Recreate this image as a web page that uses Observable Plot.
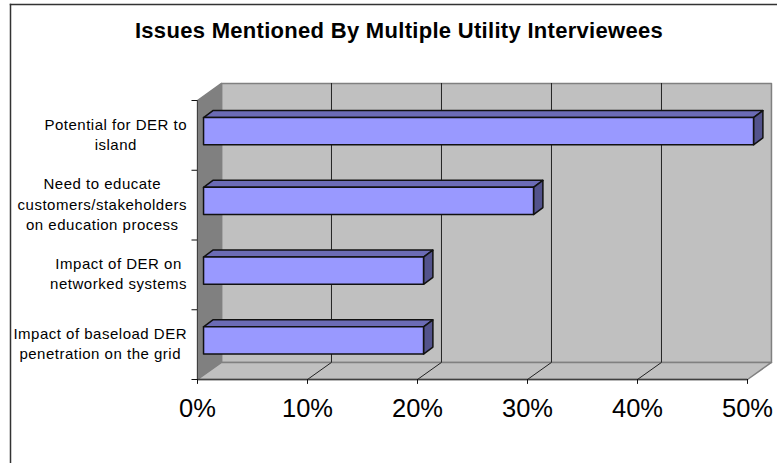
<!DOCTYPE html>
<html>
<head>
<meta charset="utf-8">
<script src="https://cdn.jsdelivr.net/npm/d3@7"></script>
<script src="https://cdn.jsdelivr.net/npm/@observablehq/plot@0.6"></script>
<style>
  html, body { margin: 0; padding: 0; background: #fff; }
  svg { display: block; }
  .issue-label { letter-spacing: 0.5px; }
  .chart-title { letter-spacing: 0.3px; }
</style>
</head>
<body>
<div id="chart"></div>
<script>
// Share of interviewees raising each issue, listed from the bottom row up.
const issues = [
  "Impact of baseload DER\npenetration on the grid",
  "Impact of DER on\nnetworked systems",
  "Need to educate\ncustomers/stakeholders\non education process",
  "Potential for DER to\nisland"
];
const shares = [20, 20, 30, 50];
const percentTicks = [0, 10, 20, 30, 40, 50];
const rowTicks = [0, 1, 2, 3, 4];
const title = "Issues Mentioned By Multiple Utility Interviewees";

// Oblique projection: how far the back wall and the bar depth shift, in axis units.
const wallShift = {x: 2.18, y: 0.245};
const barShift = {x: 0.85, y: 0.1};
const barInset = {x: 0.55, y: 0.06};
const barHalf = 0.195;

const poly = (id, pts) => pts.map(([x, y]) => ({id, x, y}));
const face = (id, fill, pts, stroke, strokeWidth = 1.5) =>
  Plot.line(poly(id, pts), {x: "x", y: "y", fill, stroke, strokeWidth, curve: "linear-closed"});

const maxX = percentTicks[percentTicks.length - 1];
const maxY = rowTicks[rowTicks.length - 1];
const sx = wallShift.x, sy = wallShift.y;

const bars = shares.flatMap((v, i) => {
  const x0 = barInset.x, x1 = barInset.x + v;
  const lo = i + 0.5 + barInset.y - barHalf, hi = i + 0.5 + barInset.y + barHalf;
  const bx = barShift.x, by = barShift.y;
  return [
    face(`top${i}`, "#6b6bb5", [[x0, hi], [x1, hi], [x1 + bx, hi + by], [x0 + bx, hi + by]], "#111"),
    face(`side${i}`, "#53538c", [[x1, lo], [x1, hi], [x1 + bx, hi + by], [x1 + bx, lo + by]], "#111"),
    face(`front${i}`, "#9999ff", [[x0, lo], [x1, lo], [x1, hi], [x0, hi]], "#111")
  ];
});

// Category labels: lines are centred on each other and the block sits right-aligned to the axis.
const labelSize = 15;
const labelSpacing = 0.5;
const measure = document.createElement("canvas").getContext("2d");
measure.font = `${labelSize}px 'Liberation Sans'`;
const blockWidth = (s) =>
  d3.max(s.split("\n"), (l) => measure.measureText(l).width + labelSpacing * l.length);
const labelMarks = issues.map((s, i) =>
  Plot.text([s], {
    x: () => 0,
    y: () => i + 0.5,
    text: (d) => d,
    dx: -10.5 - blockWidth(s) / 2,
    dy: -2,
    textAnchor: "middle",
    lineAnchor: "middle",
    lineHeight: 1.35,
    fontSize: labelSize,
    fill: "#000",
    className: "issue-label"
  })
);

const chart = Plot.plot({
  width: 777,
  height: 463,
  margin: 0,
  style: {fontFamily: "'Liberation Sans', Arial, sans-serif", background: "#fff"},
  x: {type: "linear", domain: [0, maxX], range: [197, 747], axis: null},
  y: {type: "linear", domain: [0, maxY], range: [379, 100], axis: null},
  marks: [
    // Chart area edges along the top and left only
    Plot.frame({anchor: "top", dy: 4, insetLeft: 10, stroke: "#333", strokeWidth: 1.5}),
    Plot.frame({anchor: "left", dx: 10, insetTop: 4, stroke: "#333", strokeWidth: 1.5}),
    // Back wall, side wall and floor
    face("back", "#c0c0c0", [[sx, sy], [maxX + sx, sy], [maxX + sx, maxY + sy], [sx, maxY + sy]], "#808080"),
    face("left", "#808080", [[0, 0], [sx, sy], [sx, maxY + sy], [0, maxY]], "#808080"),
    face("floor", "#c0c0c0", [[0, 0], [maxX, 0], [maxX + sx, sy], [sx, sy]], "#808080"),
    // Gridlines run up the back wall and forward across the floor
    ...percentTicks.slice(1, -1).map((t) =>
      Plot.line([[t, 0], [t + sx, sy], [t + sx, maxY + sy]], {x: "0", y: "1", stroke: "#222", strokeWidth: 1})
    ),
    Plot.ruleY([0], {x1: 0, x2: maxX, stroke: "#404040", strokeWidth: 1.5}),
    Plot.ruleX([0], {y1: 0, y2: maxY, stroke: "#404040", strokeWidth: 1}),
    // Tick marks on both axes
    Plot.ruleX(percentTicks, {x: (d) => d, y1: 0, y2: -0.07, stroke: "#111", strokeWidth: 1}),
    Plot.ruleY(rowTicks, {y: (d) => d, x1: -0.5, x2: 0, stroke: "#111", strokeWidth: 1}),
    ...bars,
    ...labelMarks,
    Plot.text(percentTicks, {
      x: (d) => d,
      y: () => 0,
      text: (d) => `${d}%`,
      dy: 29,
      fontSize: 25.5,
      fill: "#000"
    }),
    Plot.text([title], {
      text: (d) => d,
      frameAnchor: "top",
      dx: 10,
      dy: 30,
      lineAnchor: "middle",
      fontSize: 22,
      fontWeight: "bold",
      fill: "#000",
      className: "chart-title"
    })
  ]
});
document.getElementById("chart").appendChild(chart);
</script>
</body>
</html>
